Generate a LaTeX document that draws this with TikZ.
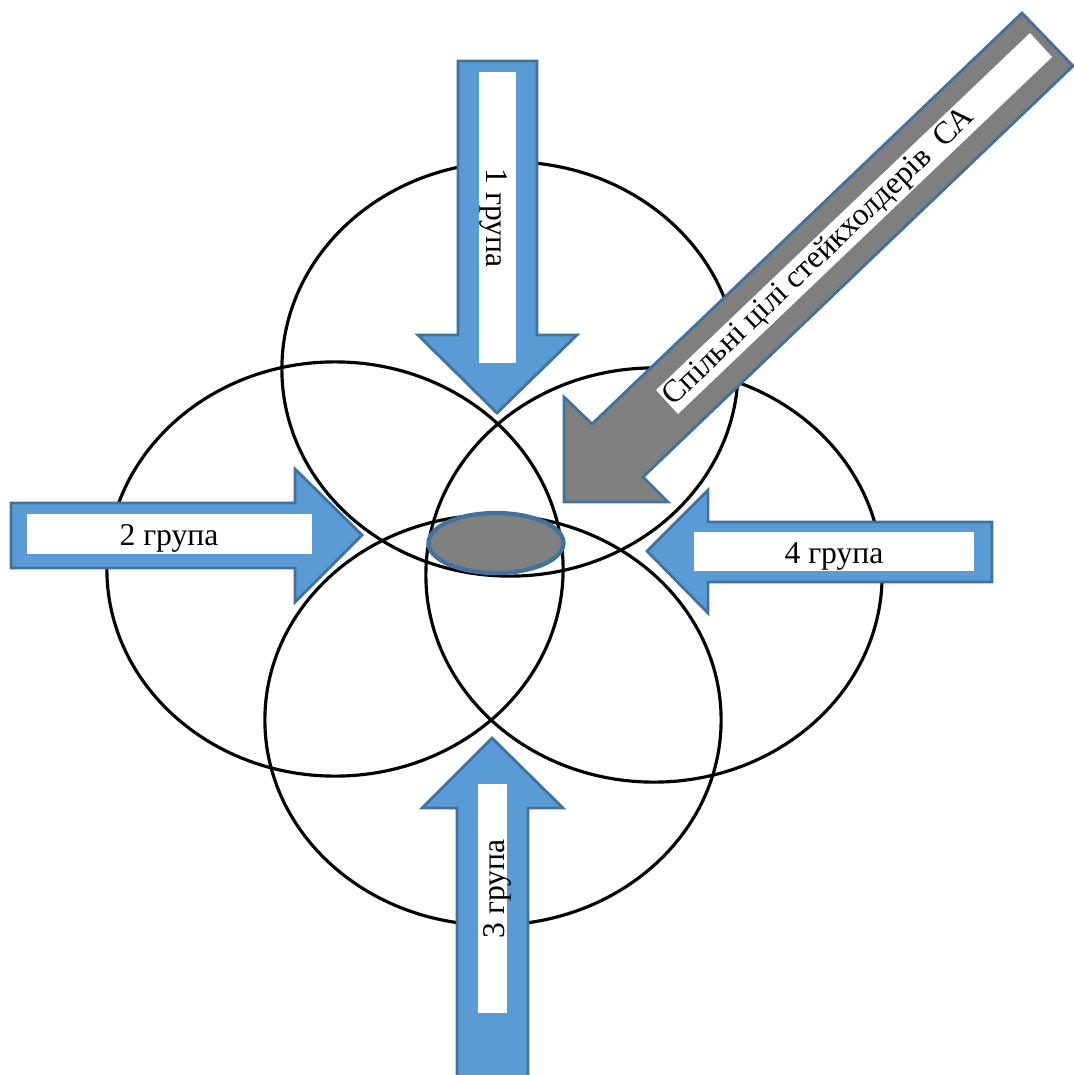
\documentclass[tikz,border=0pt]{standalone}
\usepackage{fontspec}
\setmainfont{Liberation Serif}

\definecolor{groupblue}{RGB}{91,155,213}
\definecolor{edgeblue}{RGB}{65,113,156}
\definecolor{goalgray}{RGB}{127,127,127}

\tikzset{
  group/.style={draw=black, line width=0.9pt},
  grouparrow/.style={fill=groupblue, draw=edgeblue, line width=0.8pt},
  goalarrow/.style={fill=goalgray, draw=edgeblue, line width=0.8pt},
  labelbox/.style={fill=white},
  grouplabel/.style={font=\fontsize{9}{11}\selectfont, inner sep=0pt},
}

\begin{document}
\begin{tikzpicture}[x=0.01cm, y=-0.01cm]
  \useasboundingbox (0,0) rectangle (1074,1075);
  % stakeholder groups
  \draw[group] (510,369) ellipse [x radius=2.28cm, y radius=2.07cm];
  \draw[group] (335,569) ellipse [x radius=2.28cm, y radius=2.07cm];
  \draw[group] (654,575) ellipse [x radius=2.28cm, y radius=2.07cm];
  \draw[group] (493,720) ellipse [x radius=2.28cm, y radius=2.05cm];
  % common area
  \draw[goalarrow, line width=1.2pt] (496,543) ellipse [x radius=0.675cm, y radius=0.30cm];
  % group arrows
  \draw[grouparrow] (458,61) -- (537,61) -- (537,335) -- (577,335) -- (497,413)
    -- (418,335) -- (458,335) -- cycle;
  \fill[labelbox] (479,72) rectangle (516,363);
  \node[grouplabel, rotate=-90] (g1) at (494,218) {1 група};
  \draw[grouparrow] (11,503) -- (295,503) -- (295,469) -- (362,535) -- (295,602)
    -- (295,568) -- (11,568) -- cycle;
  \fill[labelbox] (27,514) rectangle (312,554);
  \node[grouplabel] (g2) at (169,538) {2 група};
  \draw[grouparrow] (457,1078) -- (457,808) -- (422,808) -- (492,738) -- (563,808)
    -- (528,808) -- (528,1078) -- cycle;
  \fill[labelbox] (478,784) rectangle (507,1013);
  \node[grouplabel, rotate=90] (g3) at (497,889) {3 група};
  \draw[grouparrow] (992,522) -- (708,522) -- (708,490) -- (647,551) -- (708,613)
    -- (708,582) -- (992,582) -- cycle;
  \fill[labelbox] (694,532) rectangle (974,571);
  \node[grouplabel] (g4) at (834,556) {4 група};
  % common goals
  \draw[goalarrow] (1022,13) -- (1073,66) -- (643,477) -- (668,502) -- (564,502)
    -- (564,397) -- (592,424) -- cycle;
  \fill[labelbox] (656,390) -- (1030,33) -- (1052,57) -- (678,414) -- cycle;
  \node[grouplabel, rotate=43.7, anchor=west] (goals) at (668,402)
    {Спільні цілі стейкхолдерів \ СА};
\end{tikzpicture}
\end{document}
